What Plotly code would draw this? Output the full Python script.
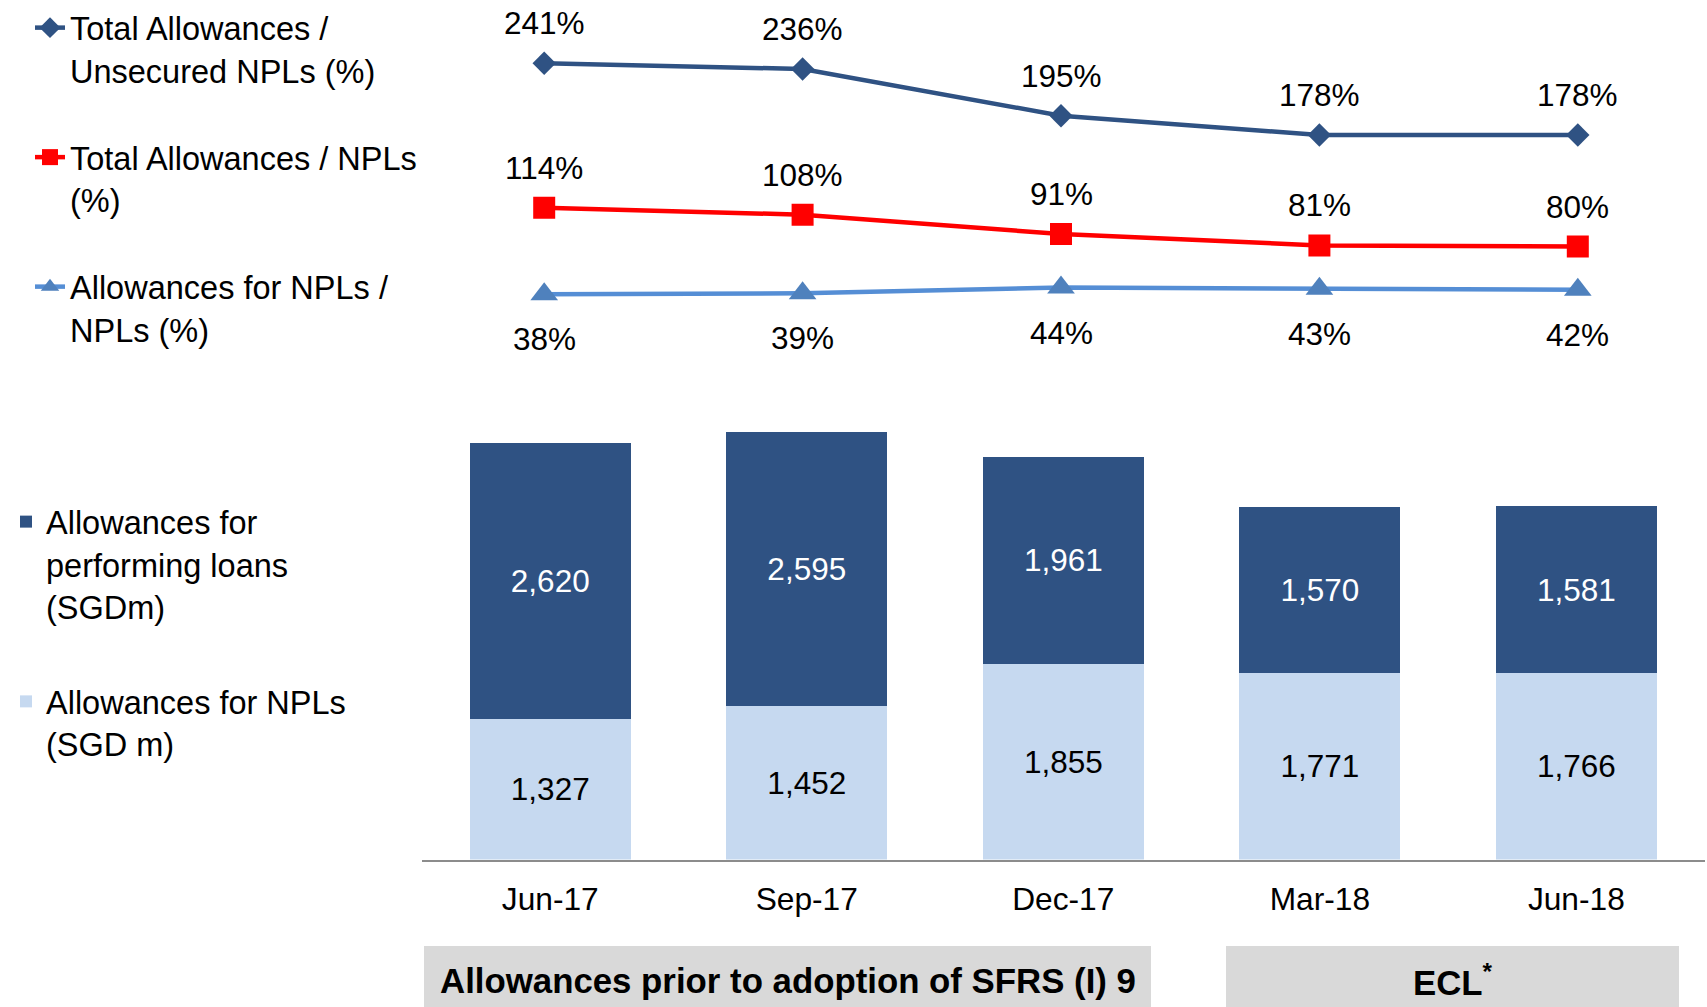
import plotly.graph_objects as go

# Quarter-end reporting periods
periods = ["Jun-17", "Sep-17", "Dec-17", "Mar-18", "Jun-18"]

# Coverage ratios (%)
cover_unsecured = [241, 236, 195, 178, 178]   # Total allowances / unsecured NPLs
cover_total = [114, 108, 91, 81, 80]          # Total allowances / NPLs
cover_npl = [38, 39, 44, 43, 42]              # Allowances for NPLs / NPLs

# Allowance balances (SGD m)
allow_npl = [1327, 1452, 1855, 1771, 1766]
allow_performing = [2620, 2595, 1961, 1570, 1581]

# Regime bands under the category axis
band_labels = ["<b>Allowances prior to adoption of SFRS (I) 9</b>", "<b>ECL<sup>*</sup></b>"]

W, H = 1707, 1007


def fx(p):
    return p / W


def fy(p):
    return 1 - p / H


NAVY = "#2F5283"
RED = "#FF0000"
SKY_LINE = "#558ED5"
SKY_MARK = "#4F81BD"
PALE = "#C6D9F0"
BAND = "#D9D9D9"
FONT = "Liberation Sans, Arial, sans-serif"
LABEL_SIZE = 31.5

fig = go.Figure()

# Stacked allowance bars
fig.add_trace(go.Bar(
    x=periods, y=allow_npl, name="Allowances for NPLs<br>(SGD m)",
    marker=dict(color=PALE, line_width=0), width=0.627,
    texttemplate="%{y:,}", textposition="inside", insidetextanchor="middle",
    textangle=0, textfont=dict(size=LABEL_SIZE, color="black"),
    legend="legend2", legendgroup="npl", legendrank=2,
    xaxis="x", yaxis="y", hoverinfo="skip",
))
fig.add_trace(go.Bar(
    x=periods, y=allow_performing, name="Allowances for<br>performing loans<br>(SGDm)",
    marker=dict(color=NAVY, line_width=0), width=0.627,
    texttemplate="%{y:,}", textposition="inside", insidetextanchor="middle",
    textangle=0, textfont=dict(size=LABEL_SIZE, color="white"),
    legend="legend2", legendgroup="perf", legendrank=1,
    xaxis="x", yaxis="y", hoverinfo="skip",
))

# Coverage ratio lines
line_series = [
    ("Total Allowances /<br>Unsecured NPLs (%)", cover_unsecured, NAVY, NAVY, "diamond", 18, 40),
    ("Total Allowances / NPLs<br>(%)", cover_total, RED, RED, "square", 22, 40),
    ("Allowances for NPLs /<br>NPLs (%)", cover_npl, SKY_LINE, SKY_MARK, "triangle-up", 24, -45),
]
annotations = []
for i, (name, vals, lc, mc, sym, size, shift) in enumerate(line_series):
    fig.add_trace(go.Scatter(
        x=periods, y=vals, name=name, mode="lines+markers",
        line=dict(color=lc, width=4.5),
        marker=dict(symbol=sym, size=size, color=mc, line_width=0),
        legend="legend", legendgroup=f"l{i}",
        xaxis="x2", yaxis="y2", hoverinfo="skip",
    ))
    for p, v in zip(periods, vals):
        annotations.append(dict(
            x=p, y=v, xref="x2", yref="y2", text=f"{v}%", showarrow=False,
            xanchor="center", yanchor="middle", yshift=shift,
            font=dict(size=LABEL_SIZE, color="black", family=FONT),
        ))

# Regime bands
bands = [(424, 1151), (1226, 1679)]
shapes = []
for (x0, x1), label in zip(bands, band_labels):
    shapes.append(dict(
        type="rect", xref="paper", yref="paper",
        x0=fx(x0), x1=fx(x1), y0=fy(1007), y1=fy(946),
        fillcolor=BAND, line_width=0, layer="below",
    ))
    annotations.append(dict(
        x=fx((x0 + x1) / 2), y=fy(980), xref="paper", yref="paper",
        xanchor="center", yanchor="middle",
        text=label, showarrow=False,
        font=dict(size=34.8, color="black", family=FONT),
    ))

fig.update_layout(
    width=W, height=H, autosize=False,
    margin=dict(l=0, r=0, t=0, b=0, pad=0),
    paper_bgcolor="white", plot_bgcolor="white",
    font=dict(family=FONT, color="black", size=31),
    barmode="stack",
    xaxis=dict(
        domain=[fx(422), fx(1704.6)], range=[-0.5, 4.5], type="category",
        showline=True, linecolor="#8C8C8C", linewidth=2, ticks="",
        ticklabelstandoff=10,
        tickfont=dict(size=31.7, color="black"), showgrid=False, zeroline=False,
        anchor="y", fixedrange=True,
    ),
    yaxis=dict(
        domain=[fy(859.5), fy(405.8)], range=[0, 4300], visible=False,
        anchor="x", fixedrange=True,
    ),
    xaxis2=dict(
        domain=[fx(415), 1.0], range=[-0.5, 4.5], type="category",
        visible=False, anchor="y2", fixedrange=True,
    ),
    yaxis2=dict(
        domain=[fy(337.6), fy(41.7)], range=[0, 260], visible=False,
        anchor="x2", fixedrange=True,
    ),
    legend=dict(
        x=fx(30), y=1.0, xanchor="left", yanchor="top",
        font=dict(size=32.5, color="black"), valign="top",
        traceorder="grouped", tracegroupgap=42,
        bgcolor="rgba(0,0,0,0)", itemclick=False, itemdoubleclick=False,
    ),
    legend2=dict(
        x=fx(6), y=fy(494), xanchor="left", yanchor="top",
        font=dict(size=32.5, color="black"), valign="top",
        traceorder="grouped", tracegroupgap=50,
        bgcolor="rgba(0,0,0,0)", itemclick=False, itemdoubleclick=False,
    ),
    shapes=shapes,
    annotations=annotations,
    showlegend=True,
)

fig.write_html("out.html", config={"displayModeBar": False})
